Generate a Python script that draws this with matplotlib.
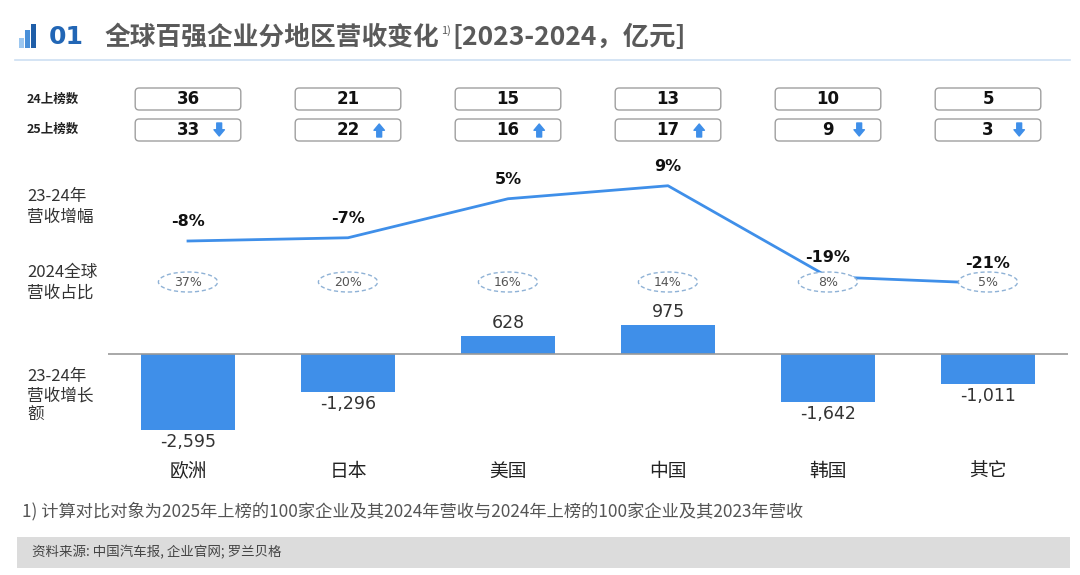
import matplotlib
matplotlib.use('Agg')
import matplotlib.pyplot as plt
from matplotlib.patches import Rectangle, Ellipse, FancyBboxPatch

plt.rcParams['font.family'] = ['Noto Sans CJK SC', 'DejaVu Sans']

# 数据
regions = ['欧洲', '日本', '美国', '中国', '韩国', '其它']
count_24 = [36, 21, 15, 13, 10, 5]
count_25 = [33, 22, 16, 17, 9, 3]
growth_pct = [-8, -7, 5, 9, -19, -21]
share_2024 = [37, 20, 16, 14, 8, 5]
revenue_change = [-2595, -1296, 628, 975, -1642, -1011]

title = '全球百强企业分地区营收变化'
title_unit = '[2023-2024，亿元]'
footnote = '1) 计算对比对象为2025年上榜的100家企业及其2024年营收与2024年上榜的100家企业及其2023年营收'
source = '资料来源: 中国汽车报, 企业官网; 罗兰贝格'

W, H = 1080, 575
BLUE = '#3f8fe9'
XL, XR = 108, 1068
xs = list(range(len(regions)))

fig = plt.figure(figsize=(W / 100, H / 100), dpi=100)


def px_axes(x0, y0, x1, y1):
    return fig.add_axes([x0 / W, 1 - y1 / H, (x1 - x0) / W, (y1 - y0) / H])


# 背景层: 标题, 左侧说明, 脚注
ax_bg = px_axes(0, 0, W, H)
ax_bg.set_xlim(0, W)
ax_bg.set_ylim(H, 0)
ax_bg.set_axis_off()

for (x0, top, c) in [(19, 38, '#9cc7f0'), (25, 30, '#4a90d9'), (31, 24, '#1f5ea8')]:
    ax_bg.add_patch(Rectangle((x0, top), 4.5, 48 - top, color=c, lw=0))
ax_bg.text(49, 37, '01', fontsize=18, fontweight='bold', color='#2266b5',
           family='DejaVu Sans', va='center')
t1 = ax_bg.text(105, 37, title, fontsize=18.5, fontweight='bold', color='#5a5a5a', va='center')
renderer = fig.canvas.get_renderer()
bb = t1.get_window_extent(renderer)
t2 = ax_bg.text(bb.x1 + 1, 31, '1)', fontsize=8, color='#5a5a5a', va='center')
bb2 = t2.get_window_extent(renderer)
ax_bg.text(bb2.x1 + 2, 37, title_unit, fontsize=19, fontweight='bold', color='#5a5a5a', va='center')
ax_bg.plot([15, 1070], [60, 60], color='#cddff2', lw=1.2)

ax_bg.text(27, 99, '24上榜数', fontsize=9, fontweight='bold', color='#222222', va='center')
ax_bg.text(27, 129, '25上榜数', fontsize=9, fontweight='bold', color='#222222', va='center')
ax_bg.text(27, 207, '23-24年\n营收增幅', fontsize=12, color='#333333', va='center', linespacing=1.3)
ax_bg.text(27, 283, '2024全球\n营收占比', fontsize=12, color='#333333', va='center', linespacing=1.3)
ax_bg.text(27, 396, '23-24年\n营收增长\n额', fontsize=12, color='#333333', va='center', linespacing=1.2)

ax_bg.text(22, 511, footnote, fontsize=12.4, color='#555555', va='center')
ax_bg.add_patch(Rectangle((17, 537), 1053, 31, color='#dcdcdc', lw=0))
ax_bg.text(32, 552, source, fontsize=9.7, color='#444444', va='center')

# 上榜数方框
ax_box = px_axes(XL, 80, XR, 150)
ax_box.set_xlim(-0.5, len(regions) - 0.5)
ax_box.set_ylim(150, 80)
ax_box.set_axis_off()
bw = 0.66
for i, (a, b) in enumerate(zip(count_24, count_25)):
    for y0 in (88, 119):
        ax_box.add_patch(FancyBboxPatch((i - bw / 2, y0), bw, 22,
                                        boxstyle='round,pad=0,rounding_size=0.025',
                                        mutation_aspect=160, fc='white', ec='#a0a0a0', lw=1))
    ax_box.text(i, 99, str(a), ha='center', va='center', fontsize=12,
                fontweight='bold', family='DejaVu Sans', color='#111111')
    ax_box.text(i, 130, str(b), ha='center', va='center', fontsize=12,
                fontweight='bold', family='DejaVu Sans', color='#111111')
    ax_pos = i + 0.195
    if b > a:
        tail, tip = 137, 124
    else:
        tail, tip = 123, 136
    ax_box.annotate('', xy=(ax_pos, tip), xytext=(ax_pos, tail),
                    arrowprops=dict(arrowstyle='simple,head_length=0.45,head_width=0.75,tail_width=0.35',
                                    color=BLUE, shrinkA=0, shrinkB=0, mutation_scale=10))

# 营收增幅折线
ax_line = px_axes(XL, 150, XR, 300)
ax_line.set_xlim(-0.5, len(regions) - 0.5)
ax_line.set_ylim(-26.15, 20)
ax_line.set_axis_off()
ax_line.plot(xs, growth_pct, color=BLUE, lw=2)
for i, v in enumerate(growth_pct):
    ax_line.annotate(f'{v}%', (i, v), xytext=(0, 12), textcoords='offset pixels',
                     ha='center', va='bottom', fontsize=11.5, fontweight='bold',
                     family='DejaVu Sans', color='#111111')

# 全球营收占比椭圆
ax_share = px_axes(XL, 268, XR, 296)
ax_share.set_xlim(-0.5, len(regions) - 0.5)
ax_share.set_ylim(0, 1)
ax_share.set_axis_off()
for i, s in enumerate(share_2024):
    ax_share.add_patch(Ellipse((i, 0.5), 0.37, 20 / 28, fc='white', ec='#8fb2d6',
                               lw=1, ls=(0, (3, 2))))
    ax_share.text(i, 0.5, f'{s}%', ha='center', va='center', fontsize=9,
                  family='DejaVu Sans', color='#555555')

# 营收增长额柱状图
ax_bar = px_axes(XL, 300, XR, 455)
ax_bar.set_xlim(-0.5, len(regions) - 0.5)
ax_bar.set_ylim(-3447, 1843)
ax_bar.set_facecolor('none')
for sp in ax_bar.spines.values():
    sp.set_visible(False)
ax_bar.bar(xs, revenue_change, width=0.59, color=BLUE)
ax_bar.axhline(0, color='#999999', lw=1.2)
ax_bar.set_yticks([])
ax_bar.set_xticks(xs, regions, fontsize=13.5, color='#222222')
ax_bar.tick_params(axis='x', length=0, pad=4)
for i, v in enumerate(revenue_change):
    off, va = (4, 'bottom') if v > 0 else (-3, 'top')
    ax_bar.annotate(f'{v:,}', (i, v), xytext=(0, off), textcoords='offset pixels',
                    ha='center', va=va, fontsize=12.5, family='DejaVu Sans', color='#333333')

fig.savefig('out.png', dpi=100)
